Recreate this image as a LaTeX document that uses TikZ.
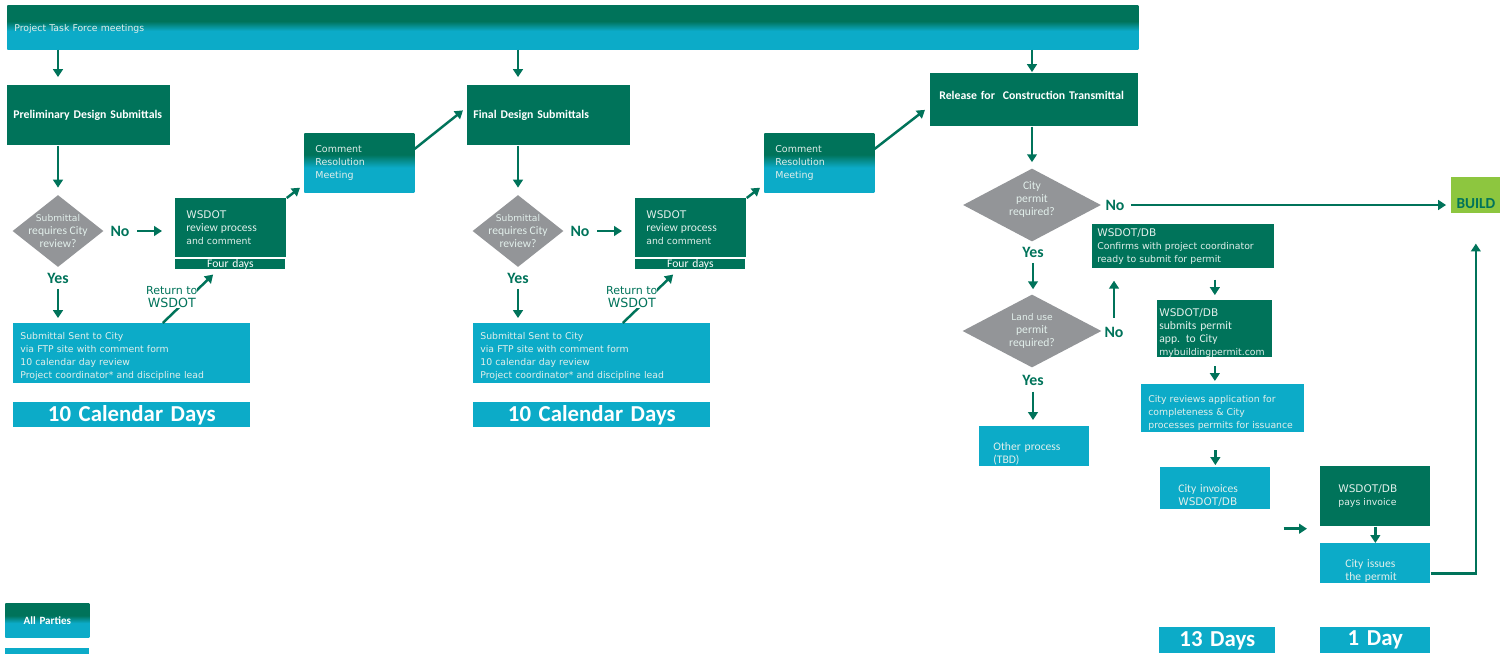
\documentclass[tikz,border=0pt]{standalone}
\usepackage{xcolor}
\usepackage{tikz}
\usepackage{fontspec}
\setmainfont{Carlito}
\newfontfamily\tah{DejaVu Sans}
\usetikzlibrary{shapes.geometric,arrows.meta,positioning,calc}

\definecolor{wsgreen}{HTML}{00735A}
\definecolor{wscyan}{HTML}{0CABC8}
\definecolor{wsgray}{HTML}{939598}
\definecolor{wslime}{HTML}{8DC63F}
\definecolor{wspale}{HTML}{E2EFEB}
\pgfdeclareverticalshading{wsfade}{100bp}{color(0bp)=(wscyan); color(46bp)=(wscyan); color(57bp)=(wsgreen); color(100bp)=(wsgreen)}
\newcommand\fsz[1]{\fontsize{#1}{7.4}\selectfont}

\tikzset{
  box/.style n args={3}{inner sep=0pt, anchor=north west, align=left, text=wspale,
    minimum width=#1*0.02cm, minimum height=#2*0.02cm, text width=(#1-2*#3)*0.02cm},
  dk/.style={fill=wsgreen},
  cy/.style={fill=wscyan},
  fade/.style={shade, shading=wsfade},
  ask/.style 2 args={diamond, fill=wsgray, inner sep=-6pt, align=center, text=wspale,
    font=\fsz{6.6}, minimum width=#1*0.02cm, minimum height=#2*0.02cm},
  yn/.style={inner sep=1pt, text=wsgreen, font=\bfseries\fsz{9}},
  head/.style={text=white, font=\bfseries\fsz{6.7}},
  days/.style={cy, align=center, text=white, font=\bfseries\fontsize{13}{14}\selectfont},
  flow/.style={draw=wsgreen, line width=1.4pt, -{Triangle[length=4.5pt,width=5.5pt]}}
}

\begin{document}
\begin{tikzpicture}[x=0.02cm,y=-0.02cm]
\useasboundingbox (0,0) rectangle (1511,653);

% Task force bar across the top
\node[box={1131}{44}{7}, fade, font=\tah\fsz{5.3}, text height=6.3pt] (tf) at (7,5) {Project Task Force meetings};

% Preliminary and final design stages
\foreach \x/\i/\name in {0/1/Preliminary Design Submittals, 460/2/Final Design Submittals} {
    \node[box={163}{60}{6}, dk, head] (ds\i) at (\x+7,85) {\name};
    \node[ask={91}{72}] (q\i) at (\x+58,231) {{\tah\fsz{5.2}Submittal}\\requires City\\review?};
    \node[yn] (no\i) at (\x+120,231) {No};
    \node[yn] (yes\i) at (\x+58,278) {Yes};
    \node[box={111}{59}{11}, dk, font=\tah\fsz{5.3}] (wr\i) at (\x+175,198)
        {{\fsz{6}WSDOT}\\{\rmfamily\fsz{6.6}review process}\\and comment};
    \node[box={110}{10}{0}, dk, align=center, text=white, font=\fsz{6.6}, text height=4.3pt, text depth=1pt] (fd\i) at (\x+175,259) {Four days};
    \node[box={237}{60}{7}, cy, font=\tah\fsz{5.3}, text height=8pt] (ss\i) at (\x+13,323)
        {Submittal Sent to City\\via FTP site with comment form\\10 calendar day review\\Project coordinator* and discipline lead};
    \node[box={237}{25}{0}, days] (cd\i) at (\x+13,402) {10 Calendar Days};
    \node[box={110}{59}{11}, fade, font=\tah\fsz{5.4}] (cr\i) at (\x+304,133) {Comment\\Resolution\\Meeting};
    % connectors
    \draw[flow, shorten >=4.5pt] (tf.south -| q\i) -- (ds\i.north -| q\i);
    \draw[flow, shorten >=4pt] (ds\i.south -| q\i) -- (q\i.north);
    \draw[flow, shorten <=3.3pt, shorten >=7.4pt] (no\i.east) -- (no\i.east -| wr\i.west);
    \draw[flow, shorten <=2pt, shorten >=2.8pt] (yes\i.south) -- (yes\i.south |- ss\i.north);
    \draw[flow, shorten >=4pt] ($(ss\i.north west)!0.63!(ss\i.north east)$) --
        node[pos=0.48, xshift=-10, fill=white, inner sep=0pt, text=wsgreen, align=center, font=\tah\fsz{6.3}] (rt\i) {Return to\\{\fsz{7.2}WSDOT}}
        ($(fd\i.south west)!0.39!(fd\i.south east)$);
    \draw[flow] (wr\i.north east) -- ($(cr\i.south west)+(-4,-5)$);
}

% Release and permit path
\node[box={208}{53}{9}, dk, head, text depth=5.5pt] (rel) at (930,73) {Release for\ \ Construction Transmittal};
\node[ask={138}{73}, text depth=7.2pt] (q3) at (1032,205) {City\\permit\\required?};
\node[yn] (no3) at (1115,205) {No};
\node[yn] (yes3) at (1033,252) {Yes};
\node[box={49}{36}{0}, fill=wslime, align=center, text=wsgreen, font=\bfseries\fsz{8.7}, text height=15pt] (build) at (1451,177) {BUILD};
\node[ask={139}{73}] (q4) at (1032,331) {{\tah\fsz{5.2}Land use}\\permit\\required?};
\node[yn] (no4) at (1114,332) {No};
\node[yn] (yes4) at (1033,380) {Yes};
\node[box={110}{40}{14}, cy, font=\fsz{6.6}, text height=12.6pt] (op) at (979,426) {Other process\\(TBD)};
\node[box={182}{44}{5}, dk, font=\tah\fsz{5.3}] (cf) at (1092,224) {{\fsz{6}WSDOT/DB}\\Confirms with project coordinator\\ready to submit for permit};
\node[box={115}{57}{2}, dk, font=\fsz{6.6}, text height=9.1pt] (sb) at (1157,300) {{\tah\fsz{6}WSDOT/DB}\\submits permit\\app. to City\\{\tah\fsz{5.3}mybuildingpermit.com}};
\node[box={163}{48}{7}, cy, font=\tah\fsz{5.3}, text height=9.7pt] (rv) at (1141,384) {City reviews application for\\completeness \& City\\processes permits for issuance};
\node[box={110}{42}{18}, cy, font=\fsz{6.6}, text height=12.6pt] (ci) at (1160,467) {City invoices\\{\tah\fsz{6}WSDOT/DB}};
\node[box={110}{60}{18}, dk, font=\tah\fsz{5.3}] (pi) at (1320,466) {{\fsz{6}WSDOT/DB}\\pays invoice};
\node[box={110}{40}{25}, cy, font=\fsz{6.6}, text height=13.6pt] (is) at (1320,543) {City issues\\the permit};
\node[box={116}{26}{0}, days] (d13) at (1159,627) {13 Days};
\node[box={110}{26}{0}, days] (d1) at (1320,627) {1 Day};

% Legend
\node[box={84}{34}{0}, fade, head, align=center, font=\bfseries\fsz{6.3}] (allp) at (5,603) {All Parties};
\node[box={84}{10}{0}, cy] (lcy) at (5,648) {};

% Stage hand-offs
\draw[flow] ($(cr1.east)+(0,-14)$) -- ($(ds2.west)+(-4,-5)$);
\draw[flow] ($(cr2.east)+(0,-14)$) -- ($(rel.west)+(-5,10)$);

% Permit connectors
\draw[flow, shorten >=0.5pt] (tf.south -| q3) -- (rel.north -| q3);
\draw[flow, shorten >=3.4pt] (rel.south -| q3) -- (q3.north);
\draw[flow, shorten <=2.5pt, shorten >=2.8pt] (no3.east) -- (no3.east -| build.west);
\draw[flow, shorten <=2pt, shorten >=2.8pt] (yes3.south) -- (yes3.south |- q4.north);
\draw[flow, shorten <=4pt, shorten >=6.8pt] (no4.north) -- (no4.north |- cf.south);
\draw[flow, shorten <=2.5pt, shorten >=3.4pt] (yes4.south) -- (yes4.south |- op.north);
\draw[flow, shorten <=6.2pt, shorten >=2.8pt] (cf.south -| sb) -- (sb.north);
\draw[flow, shorten <=5pt, shorten >=1.7pt] (sb.south) -- (sb.south |- rv.north);
\draw[flow, shorten <=10pt, shorten >=1.1pt] (ci.north |- rv.south) -- (ci.north);
\draw[flow] ($(ci.south east)+(13,19)$) -- ($(pi.south west)+(-13,2)$);
\draw[flow] (pi.south) -- (is.north);
\draw[flow, shorten >=17pt] ($(is.east)+(0,10)$) -| (build.south);

\end{tikzpicture}
\end{document}
